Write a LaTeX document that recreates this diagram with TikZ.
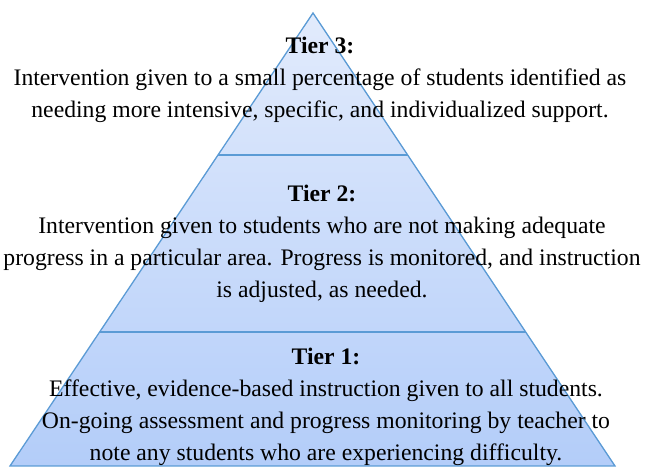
\documentclass[tikz,border=0pt]{standalone}
\usepackage{fontspec}
\setmainfont{Liberation Serif}
\definecolor{edge}{HTML}{5B9BD5}
\definecolor{topfill}{HTML}{E2EBFC}
\definecolor{botfill}{HTML}{B3CDF9}
\begin{document}
\begin{tikzpicture}[x=1pt,y=1pt,
  tiertext/.style={align=center,font=\fontsize{23.7}{32}\selectfont,inner sep=0pt,text=black},
  tierline/.style={draw=edge,line width=1.3pt,line join=miter}]
\useasboundingbox (0,0) rectangle (645,468);
\coordinate (apex) at (313,455);
\coordinate (bl) at (10,2);
\coordinate (br) at (615,2);
\coordinate (m2l) at (100,136);
\coordinate (m2r) at (526,136);
\coordinate (m3l) at (218,313);
\coordinate (m3r) at (408,313);
\shade[top color=topfill,bottom color=botfill] (apex) -- (bl) -- (br) -- cycle;
\draw[tierline] (apex) -- (bl) -- (br) -- cycle;
\draw[tierline] (m2l) -- (m2r);
\draw[tierline] (m3l) -- (m3r);
\node[tiertext] (tier3) at (320,388) {\textbf{Tier 3:}\\Intervention given to a small percentage of students identified as\\needing more intensive, specific, and individualized support.};
\node[tiertext] (tier2) at (322,224) {\textbf{Tier 2:}\\Intervention given to students who are not making adequate\\progress in a particular area. Progress is monitored, and instruction\\is adjusted, as needed.};
\node[tiertext] (tier1) at (326,61) {\textbf{Tier 1:}\\Effective, evidence-based instruction given to all students.\\On-going assessment and progress monitoring by teacher to\\note any students who are experiencing difficulty.};
\end{tikzpicture}
\end{document}
